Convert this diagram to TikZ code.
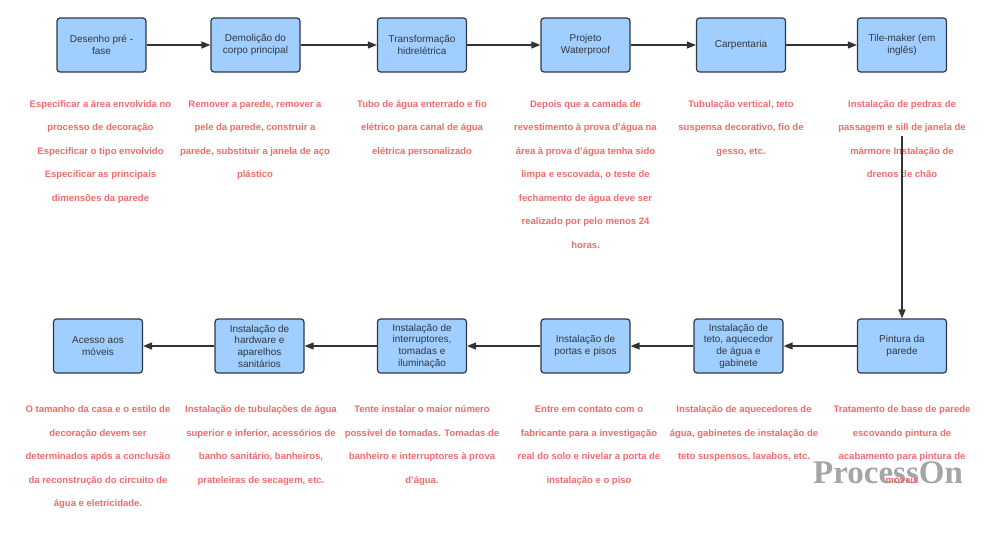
\documentclass[tikz,border=0pt]{standalone}
\usepackage{fontspec}
\setmainfont{Liberation Sans}
\newfontfamily\wmfont{Liberation Serif}
\usetikzlibrary{arrows.meta}
\definecolor{boxfill}{RGB}{160,206,255}
\definecolor{boxline}{RGB}{45,55,70}
\definecolor{boxtext}{RGB}{50,55,65}
\definecolor{anncol}{RGB}{238,108,108}
\definecolor{arrcol}{RGB}{51,51,51}
\definecolor{wmcol}{RGB}{165,165,165}
\newcommand{\fs}{\rule{0pt}{10pt}}
\begin{document}
\begin{tikzpicture}[x=1pt,y=-1pt,
  stepbox/.style={draw=boxline, fill=boxfill, line width=1.2pt, rounded corners=3pt,
    minimum width=89pt, minimum height=54pt, inner sep=1pt, align=center,
    text=boxtext, font=\fontsize{10}{11.7}\selectfont},
  ann/.style={anchor=north, inner sep=0pt, align=center, text=anncol,
    font=\bfseries\fontsize{9.5}{23.5}\selectfont},
  conn/.style={draw=arrcol, line width=1.3pt, -{Triangle[length=9pt,width=7pt]}},
  wm/.style={inner sep=0pt, text=wmcol, font=\wmfont\bfseries\fontsize{33}{33}\selectfont}]
\useasboundingbox (0,0) rectangle (1000,533);
% top row
\node[stepbox] (t1) at (101.5,45) {Desenho pré -\\fase};
\node[stepbox] (t2) at (255.5,45) {Demolição do\\corpo principal};
\node[stepbox] (t3) at (422,45) {Transformação\\hidrelétrica};
\node[stepbox] (t4) at (585.5,45) {Projeto\\Waterproof};
\node[stepbox] (t5) at (741,45) {Carpentaria};
\node[stepbox] (t6) at (902,45) {Tile-maker (em\\inglês)};
% bottom row
\node[stepbox] (b1) at (98,346) {Acesso aos\\móveis};
\node[stepbox] (b2) at (259.5,346) {Instalação de\\hardware e\\aparelhos\\sanitários};
\node[stepbox] (b3) at (422,346) {Instalação de\\interruptores,\\tomadas e\\iluminação};
\node[stepbox] (b4) at (585.5,346) {Instalação de\\portas e pisos};
\node[stepbox] (b5) at (738.5,346) {Instalação de\\teto, aquecedor\\de água e\\gabinete};
\node[stepbox] (b6) at (902,346) {Pintura da\\parede};
% connectors
\draw[conn] (t1) -- (t2);
\draw[conn] (t2) -- (t3);
\draw[conn] (t3) -- (t4);
\draw[conn] (t4) -- (t5);
\draw[conn] (t5) -- (t6);
\draw[conn] (b6) -- (b5);
\draw[conn] (b5) -- (b4);
\draw[conn] (b4) -- (b3);
\draw[conn] (b3) -- (b2);
\draw[conn] (b2) -- (b1);
% watermark
\node[wm] (wmk) at (888,472.5) {ProcessOn};
% annotations top
\node[ann] (a1) at (100.5,97) {\fs Especificar a área envolvida no\\processo de decoração\\Especificar o tipo envolvido\\Especificar as principais\\dimensões da parede};
\node[ann] (a2) at (255,97) {\fs Remover a parede, remover a\\pele da parede, construir a\\parede, substituir a janela de aço\\plástico};
\node[ann] (a3) at (422,97) {\fs Tubo de água enterrado e fio\\elétrico para canal de água\\elétrica personalizado};
\node[ann] (a4) at (585.5,97) {\fs Depois que a camada de\\revestimento à prova d’água na\\área à prova d’água tenha sido\\limpa e escovada, o teste de\\fechamento de água deve ser\\realizado por pelo menos 24\\horas.};
\node[ann] (a5) at (741,97) {\fs Tubulação vertical, teto\\suspensa decorativo, fio de\\gesso, etc.};
\node[ann] (a6) at (902,97) {\fs Instalação de pedras de\\passagem e sill de janela de\\mármore Instalação de\\drenos de chão};
% annotations bottom
\node[ann] (c1) at (98,402.3) {\fs O tamanho da casa e o estilo de\\decoração devem ser\\determinados após a conclusão\\da reconstrução do circuito de\\água e eletricidade.};
\node[ann] (c2) at (261,402.3) {\fs Instalação de tubulações de água\\superior e inferior, acessórios de\\banho sanitário, banheiros,\\prateleiras de secagem, etc.};
\node[ann] (c3) at (422,402.3) {\fs Tente instalar o maior número\\possível de tomadas. Tomadas de\\banheiro e interruptores à prova\\d’água.};
\node[ann] (c4) at (589,402.3) {\fs Entre em contato com o\\fabricante para a investigação\\real do solo e nivelar a porta de\\instalação e o piso};
\node[ann] (c5) at (744,402.3) {\fs Instalação de aquecedores de\\água, gabinetes de instalação de\\teto suspensos, lavabos, etc.};
\node[ann] (c6) at (902,402.3) {\fs Tratamento de base de parede\\escovando pintura de\\acabamento para pintura de\\móveis};
% vertical connector
\coordinate (vstart) at (902,136);
\draw[conn] (vstart) -- (b6.north);
\end{tikzpicture}
\end{document}
